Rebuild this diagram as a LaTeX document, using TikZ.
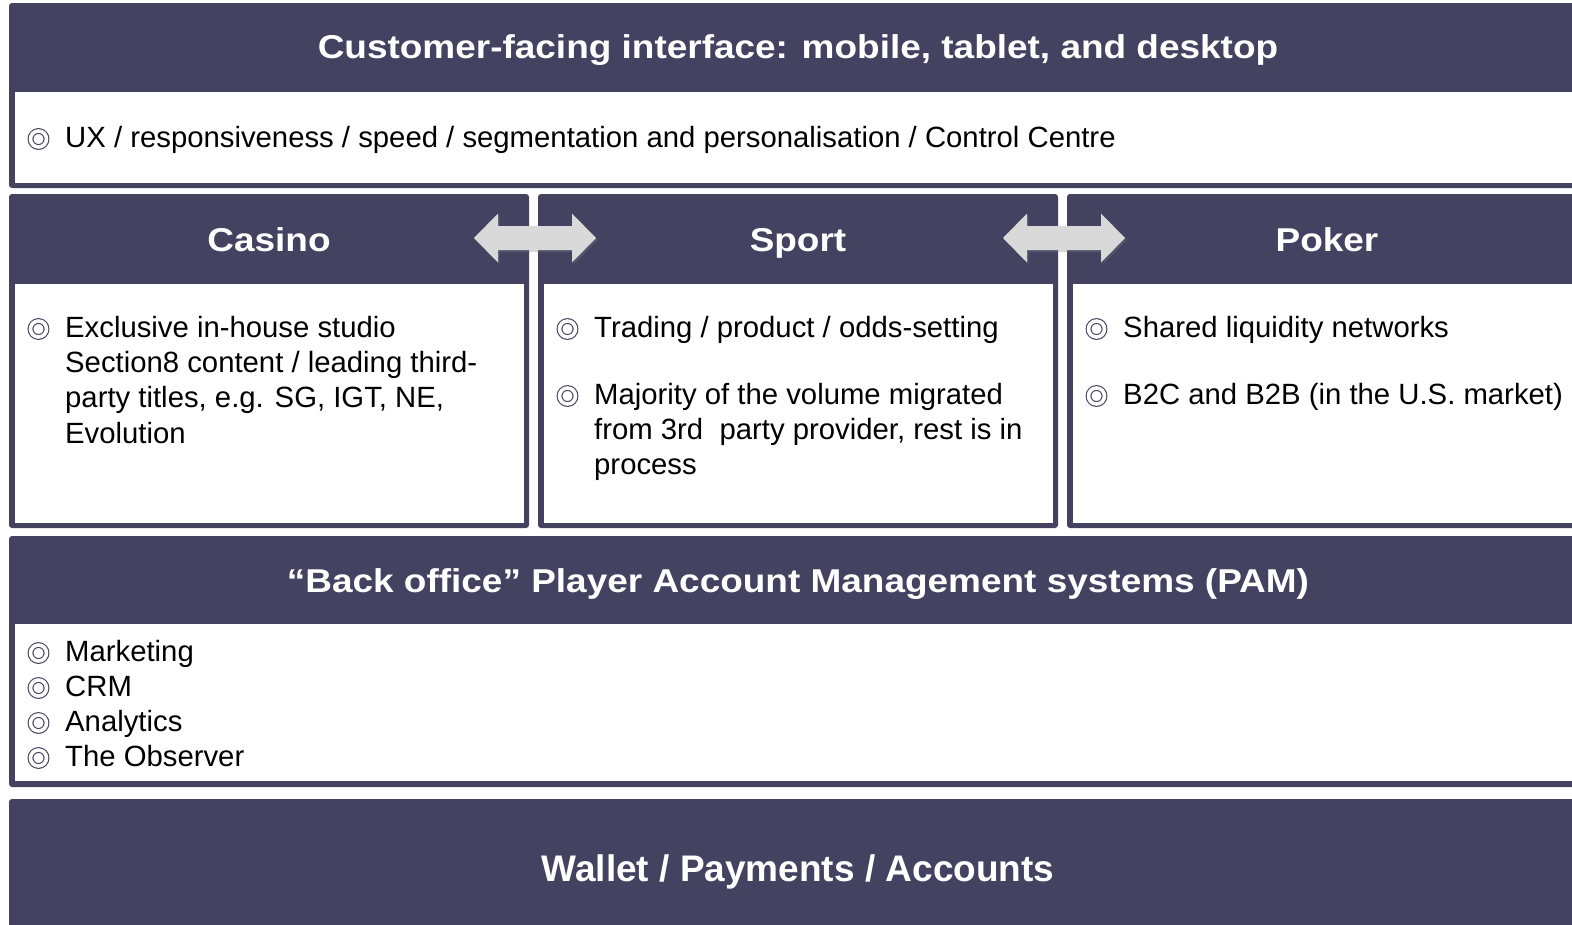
\documentclass[tikz,border=0pt]{standalone}
\usepackage{fontspec}
\setmainfont{Liberation Sans}
\newfontfamily\headfamily{Liberation Sans Bold}[FakeStretch=1.12]
\usetikzlibrary{shadows}

\definecolor{navy}{HTML}{434361}
\definecolor{arrowgray}{HTML}{D9D9D9}

\newcommand{\bodyfont}{\fontsize{29.3}{35.3}\selectfont}
\newcommand{\headfont}{\headfamily\fontsize{33}{40}\selectfont}
\newcommand{\walletfont}{\fontsize{37}{40}\selectfont\bfseries}

\tikzset{
  panel/.style={fill=navy, rounded corners=3pt},
  pane/.style={fill=white},
  heading/.style={anchor=base, text=white, font=\headfont, inner sep=0pt},
  item/.style={anchor=base west, align=left, font=\bodyfont, inner sep=0pt},
  bul/.style={circle, draw=navy, line width=1.1pt, double=white, double distance=3.6pt, minimum size=16pt, inner sep=0pt},
  swap/.style={fill=arrowgray, drop shadow={shadow xshift=1.5pt, shadow yshift=-2pt, opacity=0.3}}
}

% double block arrow centred at x = #1
\newcommand{\swaparrow}[1]{%
  \path[swap] (#1-61,238) -- ++(24,-24.5) -- ++(0,12.5) -- ++(74,0) -- ++(0,-12.5)
    -- ++(24,24.5) -- ++(-24,24.5) -- ++(0,-12.5) -- ++(-74,0) -- ++(0,12.5) -- cycle;}

\begin{document}
\begin{tikzpicture}[x=1pt, y=-1pt]
	\useasboundingbox (0,0) rectangle (1572,924);
	\clip (0,0) rectangle (1572,924);

	% front end
	\fill[panel] (9,3) rectangle (1600,188);
	\fill[pane] (15,92) rectangle (1600,183);
	\node[heading] (uihead) at (798,58) {Customer-facing interface: mobile, tablet, and desktop};
	\node[bul] (uib) at (38.5,139) {};
	\node[item] (uitext) at (65,147) {UX / responsiveness / speed / segmentation and personalisation / Control Centre};

	% product verticals
	\foreach \col in {0,1,2} {
		\begin{scope}[xshift=\col*529]
			\fill[panel] (9,194) rectangle (529,528);
			\fill[pane] (15,284) rectangle (524,523);
		\end{scope}
	}
	\node[heading] (casino) at (269,251) {Casino};
	\node[heading] (sport) at (798,251) {Sport};
	\node[heading] (poker) at (1327,251) {Poker};

	% multi-line items sit on the baseline of their last line
	\node[bul] (casb1) at (38.5,329) {};
	\node[item] (cast1) at (65,443) {Exclusive in-house studio\\Section8 content / leading third-\\party titles, e.g. SG, IGT, NE,\\Evolution};

	\node[bul] (spob1) at (567.5,329) {};
	\node[item] (spot1) at (594,337) {Trading / product / odds-setting};
	\node[bul] (spob2) at (567.5,396) {};
	\node[item] (spot2) at (594,474.6) {Majority of the volume migrated\\from 3rd\ \ party provider, rest is in\\process};

	\node[bul] (pokb1) at (1096.5,329) {};
	\node[item] (pokt1) at (1123,337) {Shared liquidity networks};
	\node[bul] (pokb2) at (1096.5,396) {};
	\node[item] (pokt2) at (1123,404) {B2C and B2B (in the U.S. market)};

	% shared between verticals
	\swaparrow{535}
	\swaparrow{1064}

	% back office
	\fill[panel] (9,536) rectangle (1600,787);
	\fill[pane] (15,624) rectangle (1600,781);
	\node[heading] (pamhead) at (798,592) {“Back office” Player Account Management systems (PAM)};
	\foreach \txt [count=\i] in {Marketing, CRM, Analytics, The Observer} {
		\node[bul] (pamb\i) at (38.5,618+35*\i) {};
		\node[item] (pamt\i) at (65,626+35*\i) {\txt};
	}

	% payments
	\fill[panel] (9,799) rectangle (1600,940);
	\node[heading, font=\walletfont] (wallet) at (798,881) {Wallet / Payments / Accounts};
\end{tikzpicture}
\end{document}
